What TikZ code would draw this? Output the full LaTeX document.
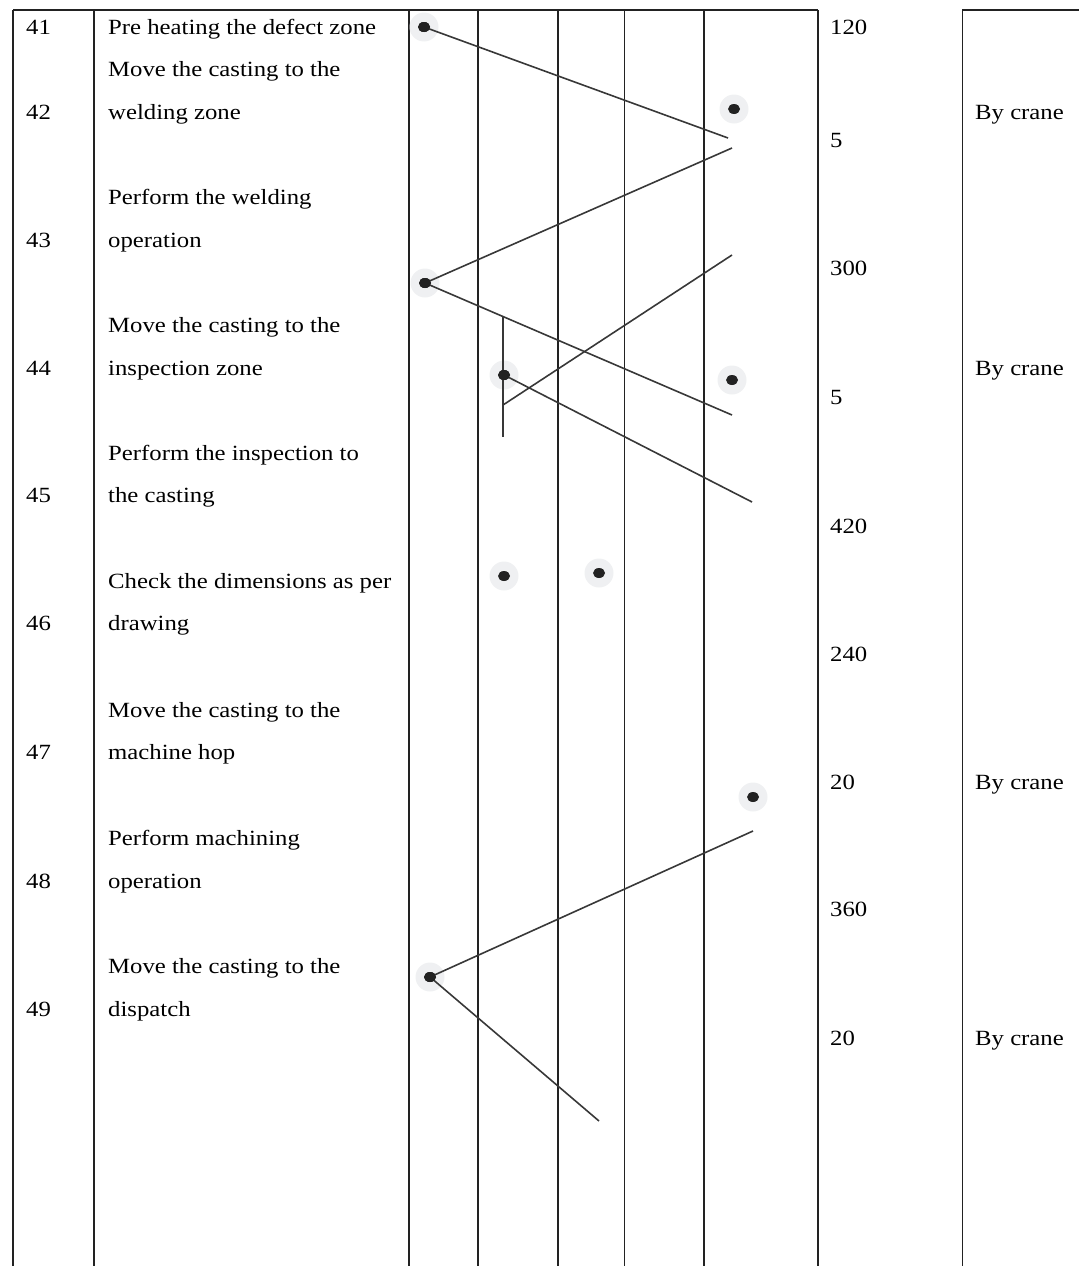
\documentclass[tikz,border=0pt]{standalone}
\usepackage{fontspec}
\setmainfont{Liberation Serif}[FakeStretch=1.14]
\definecolor{halo}{HTML}{EFF0F2}
\definecolor{ink}{HTML}{222222}
\begin{document}
\begin{tikzpicture}[x=1pt,y=-1pt,
  gridthick/.style={line width=2.4pt, draw=ink},
  gridthin/.style={line width=0.8pt, draw=ink},
  conn/.style={line width=1.6pt, draw=ink!90},
  dot/.style={circle, fill=halo, minimum size=29pt, inner sep=0pt,
    path picture={\fill[ink] (path picture bounding box.center) ellipse (6pt and 5pt);}},
  txt/.style={anchor=base west, inner sep=0pt, font=\fontsize{21.7}{26}\selectfont}]
\useasboundingbox (0,0) rectangle (1079,1266);

% table frame
\coordinate (tl) at (13,10);
\coordinate (tr) at (818,10);
\coordinate (rl) at (962,10);
\coordinate (rr) at (1079,10);
\draw[gridthick] (tl) -- (tr);
\draw[gridthick] (rl) -- (rr);
\foreach \x in {13,94,409,478,558,704,818} {
  \draw[gridthick] (\x,10) -- (\x,1266);
}
\draw[gridthin] (624,10) -- (624,1266);
\draw[gridthin] (962,10) -- (962,1266);

% numbers
\node[txt] (n41) at (26,34) {41};
\node[txt] (n42) at (26,119) {42};
\node[txt] (n43) at (26,247) {43};
\node[txt] (n44) at (26,375) {44};
\node[txt] (n45) at (26,502) {45};
\node[txt] (n46) at (26,630) {46};
\node[txt] (n47) at (26,759) {47};
\node[txt] (n48) at (26,888) {48};
\node[txt] (n49) at (26,1016) {49};

% descriptions
\node[txt] (a41) at (108,34) {Pre heating the defect zone};
\node[txt] (a42a) at (108,76) {Move the casting to the};
\node[txt] (a42b) at (108,119) {welding zone};
\node[txt] (a43a) at (108,204) {Perform the welding};
\node[txt] (a43b) at (108,247) {operation};
\node[txt] (a44a) at (108,332) {Move the casting to the};
\node[txt] (a44b) at (108,375) {inspection zone};
\node[txt] (a45a) at (108,460) {Perform the inspection to};
\node[txt] (a45b) at (108,502) {the casting};
\node[txt] (a46a) at (108,588) {Check the dimensions as per};
\node[txt] (a46b) at (108,630) {drawing};
\node[txt] (a47a) at (108,717) {Move the casting to the};
\node[txt] (a47b) at (108,759) {machine hop};
\node[txt] (a48a) at (108,845) {Perform machining};
\node[txt] (a48b) at (108,888) {operation};
\node[txt] (a49a) at (108,973) {Move the casting to the};
\node[txt] (a49b) at (108,1016) {dispatch};

% times
\node[txt] (t1) at (830,34) {120};
\node[txt] (t2) at (830,147) {5};
\node[txt] (t3) at (830,275) {300};
\node[txt] (t4) at (830,404) {5};
\node[txt] (t5) at (830,533) {420};
\node[txt] (t6) at (830,661) {240};
\node[txt] (t7) at (830,789) {20};
\node[txt] (t8) at (830,916) {360};
\node[txt] (t9) at (830,1045) {20};

% remarks
\node[txt] (r1) at (975,119) {By crane};
\node[txt] (r2) at (975,375) {By crane};
\node[txt] (r3) at (975,789) {By crane};
\node[txt] (r4) at (975,1045) {By crane};

% dots
\node[dot] (d1) at (424,27) {};
\node[dot] (d2) at (734,109) {};
\node[dot] (d3) at (425,283) {};
\node[dot] (d4) at (504,375) {};
\node[dot] (d5) at (732,380) {};
\node[dot] (d6) at (504,576) {};
\node[dot] (d7) at (599,573) {};
\node[dot] (d8) at (753,797) {};
\node[dot] (d9) at (430,977) {};

% free ends
\coordinate (e1) at (728,138);
\coordinate (e2) at (732,148);
\coordinate (e3) at (732,415);
\coordinate (e4a) at (732,255);
\coordinate (e4b) at (503,405);
\coordinate (v1) at (503,316);
\coordinate (v2) at (503,437);
\coordinate (e5) at (752,502);
\coordinate (e6) at (753,831);
\coordinate (e7) at (599,1121);

% connectors
\draw[conn] (d1.center) -- (e1);
\draw[conn] (e2) -- (d3.center);
\draw[conn] (d3.center) -- (e3);
\draw[conn] (e4a) -- (e4b);
\draw[conn] (v1) -- (v2);
\draw[conn] (d4.center) -- (e5);
\draw[conn] (e6) -- (d9.center);
\draw[conn] (d9.center) -- (e7);
\fill[ink] (d1) ellipse (6pt and 5pt);
\fill[ink] (d3) ellipse (6pt and 5pt);
\fill[ink] (d4) ellipse (6pt and 5pt);
\fill[ink] (d9) ellipse (6pt and 5pt);
\end{tikzpicture}
\end{document}
